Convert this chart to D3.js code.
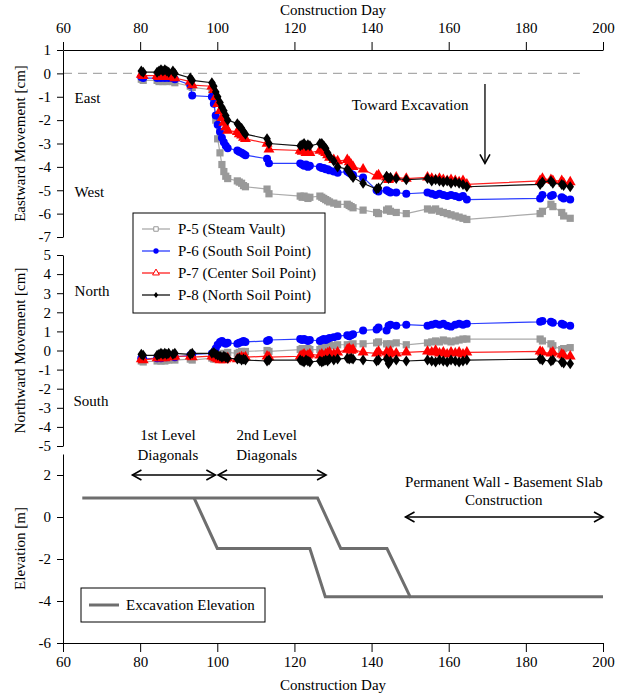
<!DOCTYPE html>
<html>
<head>
<meta charset="utf-8">
<script src="https://cdn.jsdelivr.net/npm/d3@7"></script>
<style>
  body { margin: 0; background: #fff; }
  text { font-family: "Liberation Serif", "Times New Roman", serif; }
</style>
</head>
<body>
<div id="chart-area"></div>
<script>
const WIDTH = 623;
const HEIGHT = 698;
const FONT = '"Liberation Serif", "Times New Roman", serif';

// measurement days (shared by all survey points)
const days = [80.3, 80.8, 84.4, 84.9, 85.4, 85.9, 86.4, 86.9, 87.4, 88.5, 89, 93, 93.5,
  98.6, 99.1, 99.6, 100.1, 100.7, 101.2, 101.7, 102.2, 102.7, 105.2, 105.7, 106.3, 106.8, 107.3,
  112.9, 113.4, 121.5, 122, 122.5, 123, 123.5, 124, 126.6, 127.1, 127.6, 128.1, 128.6,
  129.1, 130.2, 131.2, 133.7, 134.2, 134.7, 135.2, 137.8, 141.3, 141.8, 143.9, 144.4, 144.9,
  146.4, 149, 154.5, 155.6, 156.6, 157.6, 158.6, 159.6, 160.6, 161.7, 162.7, 163.7, 164.7,
  183.7, 184.3, 186.5, 187, 189.3, 189.8, 191.5];

// eastward movement [cm]
const eastP5 = [-0.25, -0.3, -0.3, -0.35, -0.3, -0.35, -0.3, -0.35, -0.3, -0.35, -0.4, -0.55, -0.6,
  -0.7, -1.2, -2.0, -2.8, -3.4, -3.9, -4.2, -4.4, -4.5, -4.6, -4.65, -4.7, -4.8, -4.85,
  -4.95, -5.15, -5.25, -5.3, -5.25, -5.3, -5.35, -5.3, -5.25, -5.3, -5.35, -5.4, -5.45,
  -5.5, -5.55, -5.6, -5.6, -5.65, -5.7, -5.75, -5.85, -5.95, -6.0, -5.85, -5.8, -5.9,
  -5.95, -6.0, -5.8, -5.85, -5.8, -5.9, -5.95, -6.0, -6.05, -6.1, -6.15, -6.2, -6.25,
  -6.0, -5.9, -5.6, -5.7, -5.95, -6.1, -6.2];
const eastP6 = [-0.15, -0.2, -0.2, -0.15, -0.2, -0.15, -0.2, -0.15, -0.2, -0.2, -0.25, -0.5, -0.95,
  -1.0, -1.3, -1.8, -2.2, -2.5, -2.75, -2.95, -3.1, -3.2, -3.3, -3.35, -3.4, -3.45, -3.5,
  -3.65, -3.85, -3.85, -3.9, -3.95, -3.9, -4.0, -3.95, -4.0, -4.05, -4.05, -4.1, -4.1,
  -4.15, -4.2, -4.25, -4.2, -4.25, -4.3, -4.35, -4.45, -5.0, -5.05, -5.0, -5.05, -5.1,
  -5.1, -5.15, -5.1, -5.15, -5.2, -5.15, -5.2, -5.25, -5.2, -5.25, -5.3, -5.25, -5.4,
  -5.35, -5.2, -5.25, -5.2, -5.3, -5.35, -5.4];
const eastP7 = [-0.05, -0.1, -0.1, -0.15, -0.1, -0.15, -0.1, -0.15, -0.1, -0.15, -0.2, -0.35, -0.5,
  -0.55, -0.7, -1.0, -1.3, -1.6, -1.9, -2.1, -2.3, -2.45, -2.5, -2.6, -2.65, -2.75, -2.8,
  -3.0, -3.25, -3.3, -3.35, -3.3, -3.4, -3.35, -3.4, -3.3, -3.25, -3.35, -3.4, -3.5,
  -3.6, -3.7, -3.75, -3.7, -3.8, -3.9, -4.0, -4.1, -4.4, -4.35, -4.45, -4.55, -4.5,
  -4.45, -4.5, -4.45, -4.5, -4.55, -4.5, -4.55, -4.6, -4.55, -4.6, -4.65, -4.6, -4.75,
  -4.6, -4.5, -4.55, -4.6, -4.6, -4.7, -4.65];
const eastP8 = [0.1, 0.05, 0.05, 0.1, 0.15, 0.1, 0.15, 0.1, 0.05, 0.1, 0.0, -0.2, -0.3,
  -0.4, -0.55, -0.8, -1.0, -1.25, -1.45, -1.6, -1.8, -2.0, -2.15, -2.25, -2.35, -2.5, -2.6,
  -2.8, -3.0, -3.1, -3.05, -3.0, -3.1, -3.05, -3.1, -3.0, -3.0, -3.1, -3.2, -3.4,
  -3.55, -3.75, -4.0, -4.1, -4.2, -4.35, -4.45, -4.7, -4.95, -4.9, -4.4, -4.5, -4.45,
  -4.5, -4.55, -4.5, -4.6, -4.55, -4.6, -4.65, -4.6, -4.7, -4.65, -4.7, -4.75, -4.85,
  -4.75, -4.65, -4.6, -4.7, -4.75, -4.8, -4.85];

// northward movement [cm]
const northP5 = [-0.55, -0.6, -0.55, -0.5, -0.55, -0.5, -0.55, -0.5, -0.5, -0.45, -0.5, -0.45, -0.5,
  -0.4, -0.45, -0.4, -0.3, -0.25, -0.2, -0.15, -0.2, -0.1, -0.15, -0.1, -0.05, -0.1, -0.05,
  0.0, -0.05, 0.05, 0.1, 0.05, 0.0, 0.1, 0.05, 0.05, 0.1, 0.15, 0.2, 0.25,
  0.3, 0.25, 0.3, 0.3, 0.25, 0.3, 0.35, 0.35, 0.4, 0.45, 0.35, 0.3, 0.35,
  0.4, 0.3, 0.4, 0.45, 0.5, 0.45, 0.55, 0.5, 0.45, 0.5, 0.55, 0.6, 0.6,
  0.6, 0.5, 0.35, 0.25, 0.05, 0.1, 0.15];
const northP6 = [-0.4, -0.45, -0.4, -0.35, -0.4, -0.35, -0.3, -0.35, -0.3, -0.3, -0.35, -0.25, -0.2,
  -0.15, -0.1, 0.1, 0.3, 0.45, 0.5, 0.4, 0.35, 0.4, 0.35, 0.4, 0.45, 0.5, 0.45,
  0.5, 0.55, 0.6, 0.55, 0.6, 0.55, 0.5, 0.55, 0.5, 0.55, 0.6, 0.55, 0.6,
  0.65, 0.7, 0.75, 0.8, 0.75, 0.8, 0.85, 1.05, 1.1, 1.2, 1.05, 1.3, 1.35,
  1.3, 1.35, 1.3, 1.35, 1.4, 1.35, 1.4, 1.3, 1.25, 1.35, 1.4, 1.35, 1.4,
  1.5, 1.55, 1.5, 1.45, 1.4, 1.35, 1.3];
const northP7 = [-0.45, -0.5, -0.4, -0.35, -0.4, -0.35, -0.4, -0.35, -0.3, -0.35, -0.3, -0.3, -0.35,
  -0.3, -0.35, -0.4, -0.45, -0.5, -0.45, -0.5, -0.45, -0.4, -0.45, -0.4, -0.35, -0.4, -0.35,
  -0.3, -0.35, -0.3, -0.25, -0.2, -0.3, -0.25, -0.2, -0.25, -0.2, -0.3, -0.2, -0.15,
  -0.1, -0.2, -0.1, 0.05, 0.1, 0.0, 0.05, -0.1, -0.15, -0.05, -0.1, -0.2, -0.05,
  -0.15, -0.1, -0.05, -0.1, 0.0, -0.15, -0.1, -0.2, -0.1, -0.15, -0.1, -0.2, -0.1,
  -0.05, -0.1, -0.15, -0.1, -0.2, -0.25, -0.3];
const northP8 = [-0.2, -0.25, -0.25, -0.2, -0.15, -0.2, -0.15, -0.2, -0.15, -0.2, -0.15, -0.2, -0.15,
  -0.15, -0.1, -0.2, -0.25, -0.3, -0.35, -0.3, -0.35, -0.4, -0.45, -0.4, -0.5, -0.45, -0.5,
  -0.55, -0.5, -0.5, -0.55, -0.6, -0.5, -0.55, -0.6, -0.55, -0.6, -0.55, -0.5, -0.55,
  -0.45, -0.5, -0.45, -0.4, -0.45, -0.4, -0.45, -0.5, -0.55, -0.5, -0.45, -0.7, -0.55,
  -0.5, -0.55, -0.5, -0.55, -0.6, -0.5, -0.55, -0.6, -0.5, -0.55, -0.6, -0.55, -0.5,
  -0.45, -0.5, -0.55, -0.5, -0.6, -0.65, -0.7];

// excavation elevation [m], two bounding lines
const excUpperDays = [65, 126, 132, 144, 150, 200];
const excUpperElev = [0.9, 0.9, -1.5, -1.5, -3.8, -3.8];
const excLowerDays = [94, 100, 124, 128, 150];
const excLowerElev = [0.9, -1.5, -1.5, -3.8, -3.8];

const seriesNames = ['P-5 (Steam Vault)', 'P-6 (South Soil Point)', 'P-7 (Center Soil Point)', 'P-8 (North Soil Point)'];

const x = d3.scaleLinear().domain([60, 200]).range([63, 603]);
const yEast = d3.scaleLinear().domain([-7, 1]).range([237, 50]);
const yNorth = d3.scaleLinear().domain([-5, 5]).range([446, 255]);
const yElev = d3.scaleLinear().domain([-6, 3]).range([643, 454]);

const svg = d3.select('#chart-area').append('svg')
  .attr('width', WIDTH)
  .attr('height', HEIGHT);

const diamond = 'M0,-5.5L3.8,0L0,5.5L-3.8,0Z';
const styles = [
  { line: '#aaaaaa', fill: '#999999', sym: d3.symbol(d3.symbolSquare, 52)() },
  { line: '#2b3dff', fill: '#0000ff', sym: d3.symbol(d3.symbolCircle, 50)() },
  { line: '#ff2020', fill: '#ff0000', sym: d3.symbol(d3.symbolTriangle, 52)() },
  { line: '#111111', fill: '#000000', sym: diamond }
];

function drawSeries(g, yScale, values, st) {
  const pts = days.map((d, i) => [d, values[i]]);
  g.append('path')
    .attr('d', d3.line().x(p => x(p[0])).y(p => yScale(p[1]))(pts))
    .attr('fill', 'none')
    .attr('stroke', st.line)
    .attr('stroke-width', 1.2);
  g.selectAll(null).data(pts).enter().append('path')
    .attr('d', st.sym)
    .attr('transform', p => `translate(${x(p[0])},${yScale(p[1])})`)
    .attr('fill', st.fill);
}

function yAxis(scale, majors, minors) {
  const g = svg.append('g').attr('transform', 'translate(63,0)');
  g.call(d3.axisLeft(scale).tickValues(minors).tickSize(3).tickSizeOuter(0).tickFormat(''));
  g.call(d3.axisLeft(scale).tickValues(majors).tickSize(6).tickSizeOuter(0).tickPadding(6).tickFormat(d => String(d)));
  g.selectAll('text').attr('font-size', 15).attr('font-family', FONT).attr('fill', '#000');
  g.selectAll('path.domain').attr('stroke', '#000');
}

function yTitle(label, cy) {
  svg.append('text')
    .attr('transform', `translate(25,${cy}) rotate(-90)`)
    .attr('text-anchor', 'middle')
    .attr('font-size', 15)
    .text(label);
}

function label(txt, px, py, anchor) {
  svg.append('text')
    .attr('x', px).attr('y', py)
    .attr('text-anchor', anchor || 'start')
    .attr('font-size', 15)
    .text(txt);
}

function arrowHead(xp, yp, dir) {
  // open chevron pointing along dir ('left', 'right', 'down')
  const L = 9, H = 5;
  let d;
  if (dir === 'right') d = `M${xp - L},${yp - H}L${xp},${yp}L${xp - L},${yp + H}`;
  if (dir === 'left') d = `M${xp + L},${yp - H}L${xp},${yp}L${xp + L},${yp + H}`;
  if (dir === 'down') d = `M${xp - H},${yp - L}L${xp},${yp}L${xp + H},${yp - L}`;
  svg.append('path').attr('d', d).attr('fill', 'none').attr('stroke', '#000').attr('stroke-width', 1.6);
}

function hArrow(d0, d1, yp) {
  svg.append('line').attr('x1', x(d0)).attr('x2', x(d1)).attr('y1', yp).attr('y2', yp)
    .attr('stroke', '#000').attr('stroke-width', 1.3);
  arrowHead(x(d0), yp, 'left');
  arrowHead(x(d1), yp, 'right');
}

// ---- top panel: eastward ----
svg.append('line')
  .attr('x1', x(60)).attr('x2', x(194))
  .attr('y1', yEast(0)).attr('y2', yEast(0))
  .attr('stroke', '#aaaaaa').attr('stroke-width', 1.3).attr('stroke-dasharray', '9,6');

const gEast = svg.append('g');
[eastP5, eastP6, eastP7, eastP8].forEach((v, i) => drawSeries(gEast, yEast, v, styles[i]));

yAxis(yEast, d3.range(-7, 2, 1), d3.range(-6.5, 1, 1));
yTitle('Eastward Movement [cm]', (yEast(1) + yEast(-7)) / 2);

// top x axis
const gTop = svg.append('g').attr('transform', `translate(0,${yEast(1)})`);
gTop.call(d3.axisTop(x).tickValues(d3.range(60, 201, 5).filter(d => d % 20 !== 0)).tickSize(6).tickSizeOuter(0).tickFormat(''));
gTop.call(d3.axisTop(x).tickValues(d3.range(60, 201, 20)).tickSize(8).tickSizeOuter(0).tickPadding(9).tickFormat(d => String(d)));
gTop.selectAll('text').attr('font-size', 15).attr('font-family', FONT).attr('fill', '#000');
svg.append('text').attr('x', x(130)).attr('y', 15).attr('text-anchor', 'middle').attr('font-size', 15).text('Construction Day');

label('East', x(63), yEast(-1.25));
label('West', x(63), yEast(-5.3));
label('Toward Excavation', x(150), yEast(-1.55), 'middle');
svg.append('line').attr('x1', x(169.4)).attr('x2', x(169.4)).attr('y1', yEast(-0.45)).attr('y2', yEast(-3.85))
  .attr('stroke', '#000').attr('stroke-width', 1.3);
arrowHead(x(169.4), yEast(-3.85), 'down');

// ---- middle panel: northward ----
const gNorth = svg.append('g');
[northP5, northP6, northP7, northP8].forEach((v, i) => drawSeries(gNorth, yNorth, v, styles[i]));

yAxis(yNorth, d3.range(-5, 6, 1), d3.range(-4.5, 5, 1));
yTitle('Northward Movement [cm]', (yNorth(5) + yNorth(-5)) / 2);
label('North', x(63), yNorth(2.85));
label('South', x(62.7), yNorth(-2.9));

// series legend
const leg = svg.append('g').attr('transform', 'translate(133,213)');
leg.append('rect').attr('width', 192).attr('height', 100).attr('fill', '#fff').attr('stroke', '#000').attr('stroke-width', 1);
const legSym = [
  { d: d3.symbol(d3.symbolSquare, 20)(), fill: '#fff', stroke: '#999999' },
  { d: d3.symbol(d3.symbolCircle, 22)(), fill: '#0000ff', stroke: 'none' },
  { d: d3.symbol(d3.symbolTriangle, 20)(), fill: '#fff', stroke: '#ff0000' },
  { d: 'M0,-3L2.2,0L0,3L-2.2,0Z', fill: '#000', stroke: 'none' }
];
seriesNames.forEach((name, i) => {
  const ly = 16 + i * 22;
  leg.append('line').attr('x1', 9).attr('x2', 37).attr('y1', ly).attr('y2', ly)
    .attr('stroke', styles[i].line).attr('stroke-width', 1.3);
  leg.append('path').attr('d', legSym[i].d).attr('transform', `translate(23,${ly})`)
    .attr('fill', legSym[i].fill).attr('stroke', legSym[i].stroke).attr('stroke-width', 1);
  leg.append('text').attr('x', 45).attr('y', ly + 5).attr('font-size', 15).text(name);
});

// ---- bottom panel: elevation ----
const excLine = d3.line().x(p => x(p[0])).y(p => yElev(p[1]));
[[excUpperDays, excUpperElev], [excLowerDays, excLowerElev]].forEach(([dd, ee]) => {
  svg.append('path')
    .attr('d', excLine(dd.map((d, i) => [d, ee[i]])))
    .attr('fill', 'none').attr('stroke', '#6e6e6e').attr('stroke-width', 3).attr('stroke-linejoin', 'miter');
});

yAxis(yElev, [-6, -4, -2, 0, 2], [-5, -3, -1, 1, 3]);
yTitle('Elevation [m]', (yElev(3) + yElev(-6)) / 2);

const gBot = svg.append('g').attr('transform', `translate(0,${yElev(-6)})`);
gBot.call(d3.axisBottom(x).tickValues(d3.range(70, 200, 20)).tickSize(5).tickSizeOuter(0).tickFormat(''));
gBot.call(d3.axisBottom(x).tickValues(d3.range(60, 201, 20)).tickSize(9).tickSizeOuter(0).tickPadding(4).tickFormat(d => String(d)));
gBot.selectAll('text').attr('font-size', 15).attr('font-family', FONT).attr('fill', '#000');
svg.append('text').attr('x', x(130)).attr('y', 690).attr('text-anchor', 'middle').attr('font-size', 15).text('Construction Day');

// construction stage annotations
label('1st Level', x(87.2), 440, 'middle');
label('Diagonals', x(87.2), 460, 'middle');
label('2nd Level', x(112.8), 440, 'middle');
label('Diagonals', x(112.8), 460, 'middle');
hArrow(78, 99.5, yElev(2));
hArrow(100.2, 128.2, yElev(2));
label('Permanent Wall - Basement Slab', x(174.3), 487, 'middle');
label('Construction', x(174.3), 505, 'middle');
hArrow(148.8, 200, yElev(0));

// excavation legend
const leg2 = svg.append('g').attr('transform', 'translate(81,588)');
leg2.append('rect').attr('width', 184).attr('height', 34).attr('fill', '#fff').attr('stroke', '#000').attr('stroke-width', 1);
leg2.append('line').attr('x1', 8).attr('x2', 38).attr('y1', 17).attr('y2', 17).attr('stroke', '#6e6e6e').attr('stroke-width', 3);
leg2.append('text').attr('x', 45).attr('y', 22).attr('font-size', 15).text('Excavation Elevation');
</script>
</body>
</html>
